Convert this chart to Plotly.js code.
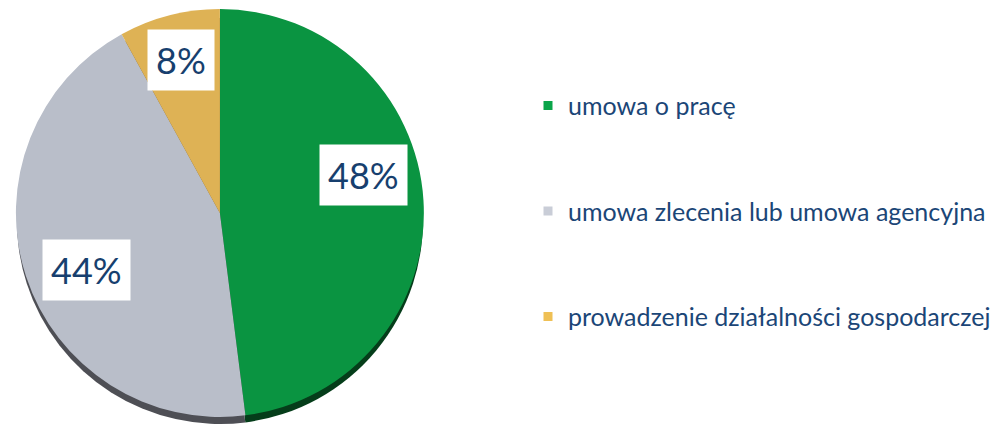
<!DOCTYPE html>
<html><head><meta charset="utf-8">
<script src="https://cdn.plot.ly/plotly-3.0.1.min.js"></script>
<style>html,body{margin:0;padding:0;background:#fff}#chart{width:996px;height:424px}</style>
</head><body><div id="chart"></div>
<script>
const categories = ['umowa o pracę', 'umowa zlecenia lub umowa agencyjna', 'prowadzenie działalności gospodarczej'];
const shares = [48, 44, 8];
const labelText = ['48%', '44%', '8%'];

const faceColors = ['#0a9441', '#b9bec9', '#deb255'];
const rimColors = ['#053d1a', '#4e4f55', '#7a6030'];
const legendColors = ['#0aa54a', '#c9cdd7', '#efc055'];

const W = 996, H = 424;
const cx = 221, cy = 213, R = 205, depth = 10;

const pieFace = {
  type: 'pie', values: shares, labels: categories, sort: false,
  direction: 'clockwise', rotation: 0,
  marker: {colors: faceColors, line: {width: 0}},
  textinfo: 'none', hoverinfo: 'label+percent', showlegend: false,
  domain: {x: [(cx - R) / W, (cx + R) / W], y: [1 - (cy + R) / H, 1 - (cy - R) / H]}
};
const pieRim = {
  type: 'pie', values: shares, labels: categories, sort: false,
  direction: 'clockwise', rotation: 0,
  marker: {colors: rimColors, line: {width: 0}},
  textinfo: 'none', hoverinfo: 'skip', showlegend: false,
  domain: {x: [(cx - R) / W, (cx + R) / W], y: [1 - (cy + depth + R) / H, 1 - (cy + depth - R) / H]}
};

const legendTraces = categories.map((c, i) => ({
  type: 'scatter', x: [null], y: [null], mode: 'markers', name: c,
  legendgroup: 'g' + i,
  marker: {symbol: 'square', size: 9, color: legendColors[i]},
  hoverinfo: 'skip', xaxis: 'x', yaxis: 'y'
}));

// label placement derived from slice angles
const total = shares.reduce((a, b) => a + b, 0);
const radFrac = [0.73, 0.71, 0.77];
const angShift = [-11, -5, 0];
let acc = 0;
const annotations = shares.map((v, i) => {
  const mid = (acc + v / 2) / total * 360 + angShift[i];
  acc += v;
  const a = mid * Math.PI / 180;
  const px = cx + R * radFrac[i] * Math.sin(a);
  const py = cy - R * radFrac[i] * Math.cos(a);
  return {
    x: px / W, y: 1 - py / H, xref: 'paper', yref: 'paper',
    text: labelText[i], showarrow: false,
    font: {family: 'Lato, "Open Sans", sans-serif', size: 36, color: '#173f6e'},
    bgcolor: '#ffffff', borderpad: 8, xanchor: 'center', yanchor: 'middle'
  };
});

const layout = {
  width: W, height: H, margin: {l: 0, r: 0, t: 0, b: 0},
  paper_bgcolor: '#ffffff', plot_bgcolor: 'rgba(0,0,0,0)',
  xaxis: {visible: false, domain: [0.99, 1]}, yaxis: {visible: false, domain: [0.99, 1]},
  showlegend: true,
  legend: {
    x: 0.533, y: 0.805, xanchor: 'left', yanchor: 'top',
    traceorder: 'grouped', tracegroupgap: 70,
    font: {family: 'Lato, "Open Sans", sans-serif', size: 25, color: '#1b4677'},
    bgcolor: 'rgba(0,0,0,0)', itemwidth: 30
  },
  annotations: annotations
};

Plotly.newPlot('chart', [pieRim, pieFace].concat(legendTraces), layout, {displayModeBar: false, staticPlot: true});
</script></body></html>
